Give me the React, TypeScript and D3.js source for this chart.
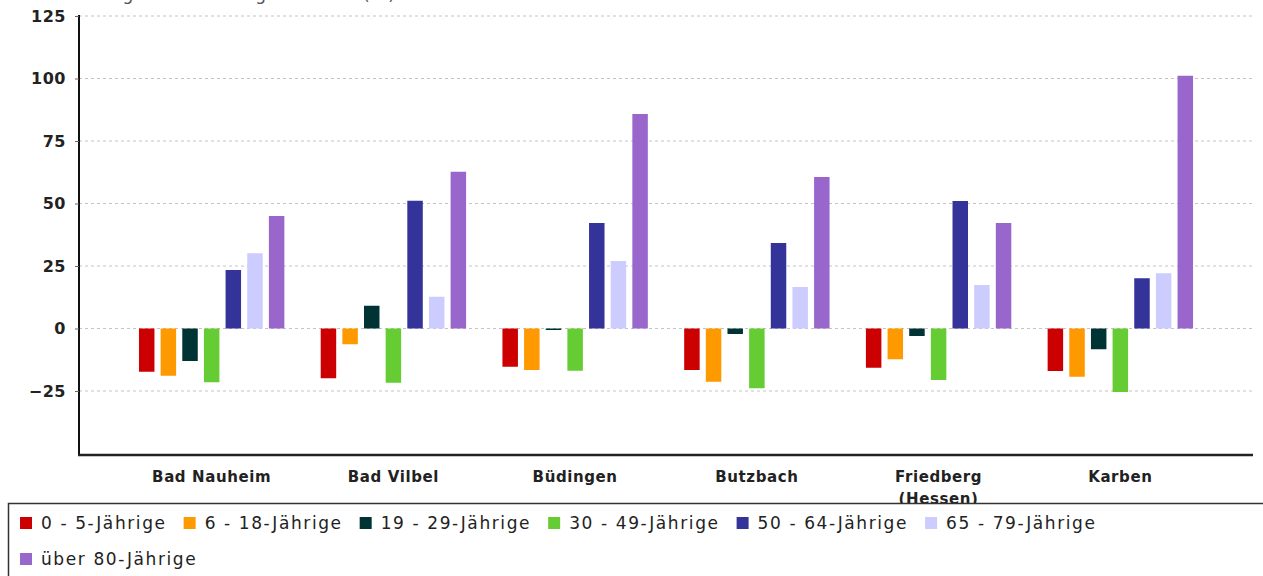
import { useEffect, useRef } from 'react';
import * as d3 from 'd3';

const width = 1263;
const height = 576;
const plot = { left: 79, right: 1253, top: 16, bottom: 455 };
const font = 'DejaVu Sans, sans-serif';

const towns = ['Bad Nauheim', 'Bad Vilbel', 'Büdingen', 'Butzbach', 'Friedberg (Hessen)', 'Karben'];
const ageGroups = ['0 - 5-Jährige', '6 - 18-Jährige', '19 - 29-Jährige', '30 - 49-Jährige', '50 - 64-Jährige', '65 - 79-Jährige', 'über 80-Jährige'];
const colors = ['#cc0000', '#ff9900', '#003333', '#66cc33', '#333399', '#ccccff', '#9966cc'];

// Veränderung in % je Altersgruppe und Stadt
const age0to5 = [-17.3, -19.9, -15.3, -16.6, -15.7, -17.0];
const age6to18 = [-18.9, -6.3, -16.6, -21.3, -12.3, -19.3];
const age19to29 = [-13.0, 9.1, -0.6, -2.2, -3.0, -8.3];
const age30to49 = [-21.5, -21.7, -16.9, -23.9, -20.6, -25.4];
const age50to64 = [23.4, 51.1, 42.2, 34.2, 51.0, 20.1];
const age65to79 = [30.1, 12.7, 27.0, 16.6, 17.4, 22.1];
const age80plus = [45.0, 62.7, 85.8, 60.6, 42.2, 101.1];
const series = [age0to5, age6to18, age19to29, age30to49, age50to64, age65to79, age80plus];

const yTicks = [-25, 0, 25, 50, 75, 100, 125];
const title = 'Bevölkerungsveränderung bis 2030 (%)';

export default function App() {
    const ref = useRef<SVGSVGElement>(null);

    useEffect(() => {
        const svg = d3.select(ref.current);
        svg.selectAll('*').remove();

        const x0 = d3.scaleBand().domain(towns).range([plot.left, plot.right])
            .paddingInner(0.2).paddingOuter(0.33);
        const x1 = d3.scaleBand().domain(ageGroups.map((_, i) => String(i)))
            .range([0, x0.bandwidth()]).paddingInner(0.285).paddingOuter(0);
        const y = d3.scaleLinear().domain([-50.6, 125]).range([plot.bottom, plot.top]);

        svg.append('rect').attr('width', width).attr('height', height).attr('fill', '#fff');

        // title, cut off at the top of the picture
        svg.append('text').attr('x', 396).attr('y', -0.5).attr('text-anchor', 'end')
            .attr('font-family', font).attr('font-size', 17).attr('letter-spacing', 1.2)
            .attr('fill', '#555').text(title);

        // grid
        svg.append('g').selectAll('line').data(yTicks).join('line')
            .attr('x1', plot.left).attr('x2', plot.right)
            .attr('y1', d => y(d)).attr('y2', d => y(d))
            .attr('stroke', '#c4c4c4').attr('stroke-dasharray', '3,3');

        // bars
        const groups = svg.append('g').selectAll('g').data(towns).join('g')
            .attr('transform', d => `translate(${x0(d)},0)`);
        groups.selectAll('rect')
            .data((_, ti) => series.map((s, si) => ({ si, v: s[ti] })))
            .join('rect')
            .attr('x', d => x1(String(d.si)))
            .attr('width', x1.bandwidth())
            .attr('y', d => y(Math.max(0, d.v)))
            .attr('height', d => Math.abs(y(d.v) - y(0)))
            .attr('fill', d => colors[d.si]);

        // y axis
        const yAxis = svg.append('g').attr('transform', `translate(${plot.left},0)`)
            .call(d3.axisLeft(y).tickValues(yTicks).tickSize(4).tickSizeOuter(0).tickPadding(9));
        yAxis.select('.domain').attr('stroke', '#111').attr('stroke-width', 2)
            .attr('d', `M0,${plot.top - 1}V${plot.bottom}`);
        yAxis.selectAll('.tick line').attr('stroke', '#666');
        yAxis.selectAll('.tick text').attr('font-family', font).attr('font-size', 16)
            .attr('font-weight', 'bold').attr('fill', '#222').attr('letter-spacing', 0.5);

        // x axis
        svg.append('line').attr('x1', plot.left - 1).attr('x2', plot.right)
            .attr('y1', plot.bottom).attr('y2', plot.bottom)
            .attr('stroke', '#222').attr('stroke-width', 2.5);

        const labels = svg.append('g').selectAll('text').data(towns).join('text')
            .attr('x', d => (x0(d) as number) + x0.bandwidth() / 2)
            .attr('y', plot.bottom + 27)
            .attr('text-anchor', 'middle')
            .attr('font-family', font).attr('font-size', 15).attr('font-weight', 'bold')
            .attr('fill', '#222').attr('letter-spacing', 0.6);
        labels.each(function (d) {
            const parts = d.split(' (');
            const t = d3.select(this);
            parts.forEach((p, i) => {
                t.append('tspan').attr('x', t.attr('x')).attr('dy', i === 0 ? 0 : 22)
                    .text(i === 0 ? p : '(' + p);
            });
        });

        // legend
        const lg = svg.append('g');
        lg.append('rect').attr('x', 8.5).attr('y', 503.5).attr('width', 1262).attr('height', 90)
            .attr('fill', '#fff').attr('stroke', '#333').attr('stroke-width', 1.5);
        let lx = 20;
        let ly = 523;
        const maxX = 1255;
        ageGroups.forEach((name, i) => {
            const item = lg.append('g');
            const txt = item.append('text').attr('font-family', font).attr('font-size', 17)
                .attr('letter-spacing', 1.6).attr('fill', '#222').attr('dy', '0.35em').text(name);
            const w = (txt.node() as SVGTextElement).getComputedTextLength();
            if (lx + 21 + w > maxX) {
                lx = 20;
                ly += 36;
            }
            item.append('rect').attr('x', lx).attr('y', ly - 6).attr('width', 12).attr('height', 12)
                .attr('fill', colors[i]);
            txt.attr('x', lx + 21).attr('y', ly);
            lx += 21 + w + 17;
        });
    }, []);

    return (
        <svg ref={ref} width={width} height={height}
            style={{ position: 'absolute', left: 0, top: 0 }} />
    );
}
